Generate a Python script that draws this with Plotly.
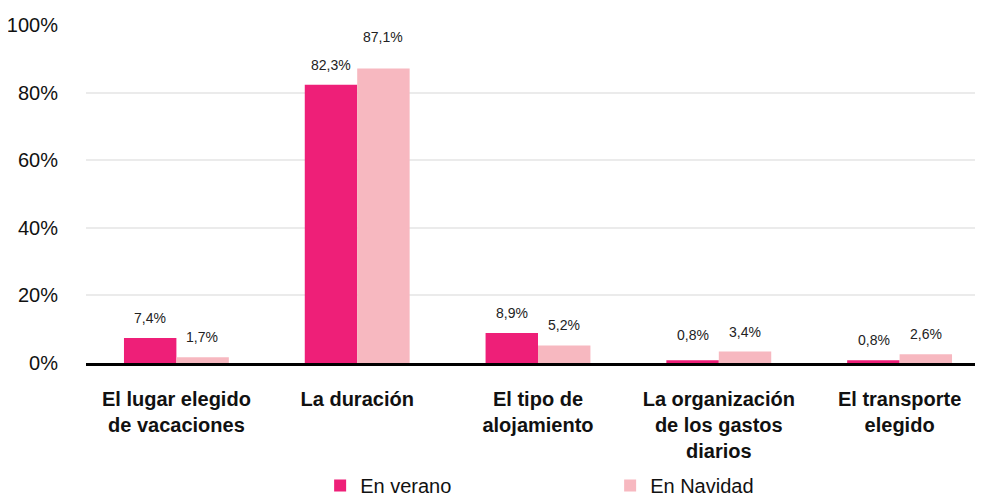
import plotly.graph_objects as go

categories = ["El lugar elegido<br>de vacaciones", "La duración", "El tipo de<br>alojamiento",
              "La organización<br>de los gastos<br>diarios", "El transporte<br>elegido"]
verano = [7.4, 82.3, 8.9, 0.8, 0.8]
navidad = [1.7, 87.1, 5.2, 3.4, 2.6]

def fmt(x):
    return f"{x:.1f}%".replace(".", ",")

fig = go.Figure()
fig.add_trace(go.Bar(x=categories, y=verano, name="En verano", marker_color="#EE1F78"))
fig.add_trace(go.Bar(x=categories, y=navidad, name="En Navidad", marker_color="#F7B8C0"))
fig.update_traces(marker_line_width=0)

# value labels above each bar (a few sit a little higher in the original)
extra_lift = {(1, 1): 12, (3, 0): 5}
for s, (vals, shift) in enumerate([(verano, -26), (navidad, 26)]):
    for i, (c, v) in enumerate(zip(categories, vals)):
        fig.add_annotation(x=c, y=v, text=fmt(v), showarrow=False, xshift=shift,
                           yanchor="bottom", yshift=10 + extra_lift.get((i, s), 0),
                           font=dict(size=14, color="#222"))

fig.update_layout(
    width=982, height=497,
    margin=dict(l=78, r=0, t=17, b=142),
    plot_bgcolor="white", paper_bgcolor="white",
    font=dict(family="Liberation Sans, Arial", color="#111"),
    barmode="group", bargap=0.42, bargroupgap=0,
    legend=dict(orientation="h", x=0.259, xanchor="left", y=-0.42, yanchor="bottom",
                font=dict(size=20), entrywidth=245, itemwidth=30),
)
fig.update_yaxes(range=[0, 100], dtick=20, ticksuffix="%", showgrid=True,
                 gridcolor="#ebebeb", gridwidth=2, zeroline=False, automargin=False,
                 tickfont=dict(size=20), ticklabelstandoff=27)
fig.update_xaxes(showline=True, linecolor="black", linewidth=3, layer="above traces",
                 automargin=False, tickfont=dict(size=20), ticklabelstandoff=16,
                 tickvals=categories, ticktext=[f"<b>{c}</b>" for c in categories])

fig.write_html("out.html")
